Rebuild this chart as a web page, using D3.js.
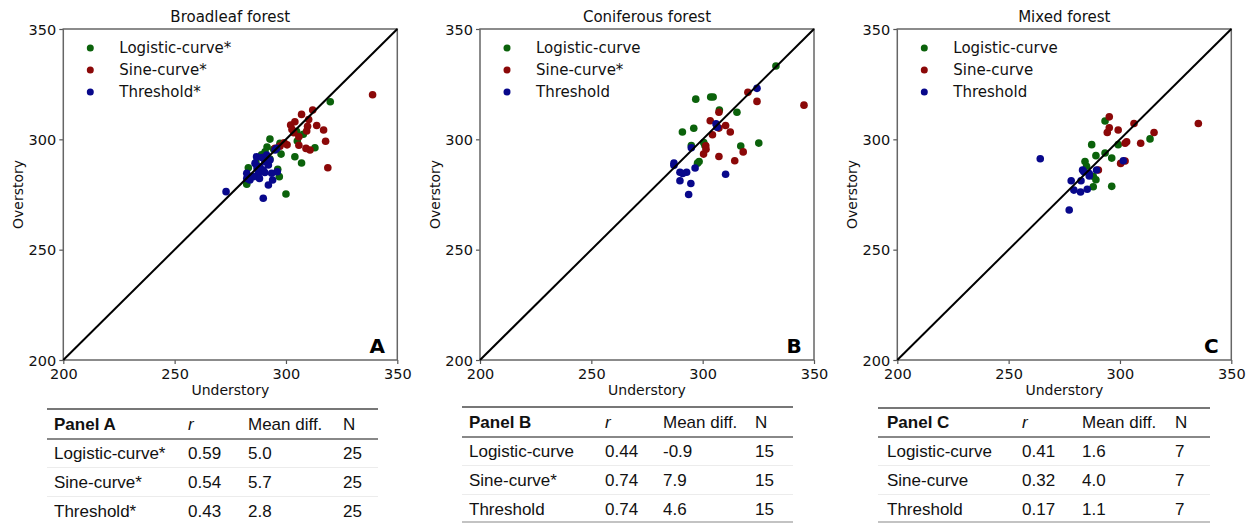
<!DOCTYPE html>
<html><head><meta charset="utf-8">
<script src="https://cdn.jsdelivr.net/npm/d3@7"></script>
<style>body{margin:0;background:#fff}svg{display:block}</style>
</head><body>
<svg id="c" width="1252" height="523"></svg>
<script>
// ---- data ----
const seriesNames = ["Logistic-curve", "Sine-curve", "Threshold"];
const panelTitles = ["Broadleaf forest", "Coniferous forest", "Mixed forest"];
const panelLetters = ["A", "B", "C"];
const legendLabelsA = ["Logistic-curve*", "Sine-curve*", "Threshold*"];
const legendLabelsB = ["Logistic-curve", "Sine-curve*", "Threshold"];
const legendLabelsC = ["Logistic-curve", "Sine-curve", "Threshold"];
const tickValues = [200, 250, 300, 350];

const broadleafLogistic = [[319.9,317.0],[304.8,303.5],[307.8,302.3],[305.1,299.2],[313.0,296.2],[292.8,300.1],[297.8,293.3],[304.0,292.1],[307.0,289.3],[297.3,298.2],[290.6,294.4],[292.8,291.1],[296.3,286.4],[297.0,283.1],[283.1,287.1],[282.4,279.7],[300.0,275.2],[294.5,295.5],[289.0,293.0],[291.5,296.5],[286.5,289.5]];
const broadleafSine = [[338.9,320.2],[312.0,313.3],[307.0,311.3],[304.0,308.0],[302.1,306.5],[302.7,304.5],[310.2,309.0],[309.7,305.9],[313.8,306.3],[316.9,304.2],[309.3,303.8],[317.8,299.1],[305.8,301.2],[305.8,297.3],[309.0,295.9],[310.8,295.2],[318.8,287.1],[299.2,298.4],[297.3,296.9],[295.1,295.9],[290.6,290.6],[303.5,303.0],[300.5,297.5]];
const broadleafThreshold = [[273.1,276.3],[289.8,273.3],[292.1,279.3],[294.0,281.6],[296.1,285.3],[295.8,295.9],[286.8,292.1],[290.6,289.9],[288.3,287.6],[282.4,284.6],[283.8,281.6],[287.6,284.6],[289.8,286.1],[292.1,288.4],[292.8,290.6],[286.1,289.1],[289.1,291.8],[291.3,292.9],[282.4,282.3],[293.6,284.6],[288.1,282.3],[285.3,283.1],[295.1,295.2],[290.5,285.0],[287.0,287.0]];

const coniferousLogistic = [[332.9,333.2],[296.9,318.2],[303.6,319.2],[304.7,319.2],[307.5,313.3],[315.4,312.3],[296.0,305.0],[290.9,303.3],[325.2,298.3],[317.1,297.0],[294.9,297.2],[301.0,297.2],[298.4,289.9],[297.7,289.2],[300.5,298.5]];
const coniferousSine = [[320.3,321.3],[324.4,317.2],[307.3,312.3],[303.4,308.4],[307.3,305.1],[310.3,306.3],[312.4,303.3],[304.4,302.1],[301.4,297.1],[300.4,293.3],[307.3,292.2],[318.2,294.3],[314.4,290.3],[345.5,315.5],[301.5,295.5]];
const coniferousThreshold = [[324.4,323.1],[306.0,307.0],[294.9,296.2],[287.1,289.2],[287.1,288.2],[289.8,285.1],[292.8,285.1],[296.6,287.0],[289.8,281.2],[294.7,280.0],[293.7,275.0],[310.3,284.2],[306.5,305.5],[291.0,284.5]];

const mixedLogistic = [[293.3,308.3],[313.5,300.2],[299.2,297.6],[287.3,297.6],[293.3,293.8],[289.2,292.6],[296.3,291.5],[284.3,289.9],[285.0,287.8],[289.2,281.7],[288.0,278.5],[296.3,278.7],[288.0,283.3]];
const mixedSine = [[295.2,310.2],[295.2,305.2],[294.3,303.1],[299.2,304.2],[306.3,307.2],[335.2,307.2],[315.3,303.1],[303.0,298.9],[302.3,298.2],[309.3,298.2],[302.3,290.2],[300.3,289.1],[290.3,286.1]];
const mixedThreshold = [[264.2,291.2],[301.5,290.3],[283.2,286.1],[283.8,285.3],[289.5,286.1],[286.2,283.4],[278.1,281.2],[282.5,281.2],[279.3,277.0],[282.3,276.1],[285.3,277.4],[277.2,268.0],[286.2,284.5]];

const tableHeaders = ["r", "Mean diff.", "N"];
const tableA = [["Logistic-curve*","0.59","5.0","25"],["Sine-curve*","0.54","5.7","25"],["Threshold*","0.43","2.8","25"]];
const tableB = [["Logistic-curve","0.44","-0.9","15"],["Sine-curve*","0.74","7.9","15"],["Threshold","0.74","4.6","15"]];
const tableC = [["Logistic-curve","0.41","1.6","7"],["Sine-curve","0.32","4.0","7"],["Threshold","0.17","1.1","7"]];

// ---- layout ----
const colors = ["#0b620b", "#8b0808", "#08088b"];
const panels = [
  {left: 63.3, data: [broadleafLogistic, broadleafSine, broadleafThreshold], legend: legendLabelsA, table: tableA,
   tab: {left: 47, right: 378, top: 409, hline: 439, headY: 424, rowY: [453, 482, 511], cols: [54, 188, 248, 343], bottom: null}},
  {left: 480, data: [coniferousLogistic, coniferousSine, coniferousThreshold], legend: legendLabelsB, table: tableB,
   tab: {left: 462, right: 793, top: 407, hline: 437, headY: 422, rowY: [451, 480, 509], cols: [469, 605, 663, 755], bottom: 522}},
  {left: 897.3, data: [mixedLogistic, mixedSine, mixedThreshold], legend: legendLabelsC, table: tableC,
   tab: {left: 878, right: 1210, top: 408, hline: 437, headY: 422, rowY: [451, 480, 509], cols: [887, 1022, 1082, 1175], bottom: 522}}
];
const PW = 334, plotTop = 29, plotBottom = 360;
const svg = d3.select("#c");
const axisFont = "'DejaVu Sans', sans-serif";
const tableFont = "'Liberation Sans', Arial, sans-serif";

panels.forEach((p, i) => {
  const x = d3.scaleLinear().domain([200, 350]).range([p.left, p.left + PW]);
  const y = d3.scaleLinear().domain([200, 350]).range([plotBottom, plotTop]);
  const g = svg.append("g");

  // axes
  const xa = g.append("g").attr("transform", `translate(0,${plotBottom})`)
    .call(d3.axisBottom(x).tickValues(tickValues).tickSize(4).tickPadding(3).tickFormat(d3.format("d")));
  const ya = g.append("g").attr("transform", `translate(${p.left},0)`)
    .call(d3.axisLeft(y).tickValues(tickValues).tickSize(4).tickPadding(3).tickFormat(d3.format("d")));
  [xa, ya].forEach(a => {
    a.select(".domain").remove();
    a.selectAll(".tick line").attr("stroke", "#555").attr("stroke-width", 1.2);
    a.selectAll(".tick text").attr("fill", "#111").style("font-family", axisFont).style("font-size", "14.5px");
  });
  ya.selectAll(".tick text").attr("dy", "0.36em");
  xa.selectAll(".tick text").attr("dy", "0.85em");
  // frame
  g.append("rect").attr("x", x(200)).attr("y", y(350)).attr("width", x(350) - x(200)).attr("height", y(200) - y(350))
    .attr("fill", "none").attr("stroke", "#666").attr("stroke-width", 1.5);

  // points
  p.data.forEach((s, k) => {
    g.append("g").selectAll("circle").data(s).join("circle")
      .attr("cx", d => x(d[0])).attr("cy", d => y(d[1])).attr("r", 3.8)
      .attr("fill", colors[k]);
  });
  // 1:1 line
  g.append("line").attr("x1", x(200)).attr("y1", y(200)).attr("x2", x(350)).attr("y2", y(350))
    .attr("stroke", "#000").attr("stroke-width", 2);

  // legend
  p.legend.forEach((lab, k) => {
    const ly = 48 + k * 22;
    g.append("circle").attr("cx", p.left + 27).attr("cy", ly).attr("r", 3.5).attr("fill", colors[k]);
    g.append("text").attr("x", p.left + 56).attr("y", ly).attr("dy", "0.35em")
      .style("font-family", axisFont).style("font-size", "15px").attr("fill", "#111").text(lab);
  });

  // titles & labels
  g.append("text").attr("x", p.left + PW / 2).attr("y", 22).attr("text-anchor", "middle")
    .style("font-family", axisFont).style("font-size", "15px").attr("fill", "#111").text(panelTitles[i]);
  g.append("text").attr("x", p.left + PW / 2).attr("y", 395).attr("text-anchor", "middle")
    .style("font-family", axisFont).style("font-size", "14px").attr("fill", "#111").text("Understory");
  g.append("text").attr("transform", `translate(${p.left - 40},${(plotTop + plotBottom) / 2}) rotate(-90)`)
    .attr("text-anchor", "middle")
    .style("font-family", axisFont).style("font-size", "14px").attr("fill", "#111").text("Overstory");
  g.append("text").attr("x", p.left + PW - 20).attr("y", 353).attr("text-anchor", "middle")
    .style("font-family", axisFont).style("font-size", "20px").style("font-weight", "bold").attr("fill", "#000")
    .text(panelLetters[i]);

  // table
  const t = p.tab;
  const tg = svg.append("g").style("font-family", tableFont).style("font-size", "17px").attr("fill", "#111");
  tg.append("line").attr("x1", t.left).attr("x2", t.right).attr("y1", t.top).attr("y2", t.top)
    .attr("stroke", "#777").attr("stroke-width", 2);
  tg.append("line").attr("x1", t.left).attr("x2", t.right).attr("y1", t.hline).attr("y2", t.hline)
    .attr("stroke", "#888").attr("stroke-width", 2);
  t.rowY.slice(0, 2).forEach(ry => {
    tg.append("line").attr("x1", t.left).attr("x2", t.right).attr("y1", ry + 14.5).attr("y2", ry + 14.5)
      .attr("stroke", "#ececec").attr("stroke-width", 1);
  });
  if (t.bottom) tg.append("line").attr("x1", t.left).attr("x2", t.right).attr("y1", t.bottom).attr("y2", t.bottom)
    .attr("stroke", "#888").attr("stroke-width", 1.2);
  tg.append("text").attr("x", t.cols[0]).attr("y", t.headY).attr("dy", "0.35em").style("font-weight", "bold")
    .text("Panel " + panelLetters[i]);
  tableHeaders.forEach((h, c) => {
    tg.append("text").attr("x", t.cols[c + 1]).attr("y", t.headY).attr("dy", "0.35em")
      .style("font-style", c === 0 ? "italic" : "normal").text(h);
  });
  p.table.forEach((row, r) => {
    row.forEach((cell, c) => {
      tg.append("text").attr("x", t.cols[c]).attr("y", t.rowY[r]).attr("dy", "0.35em").text(cell);
    });
  });
});
</script>
</body></html>
